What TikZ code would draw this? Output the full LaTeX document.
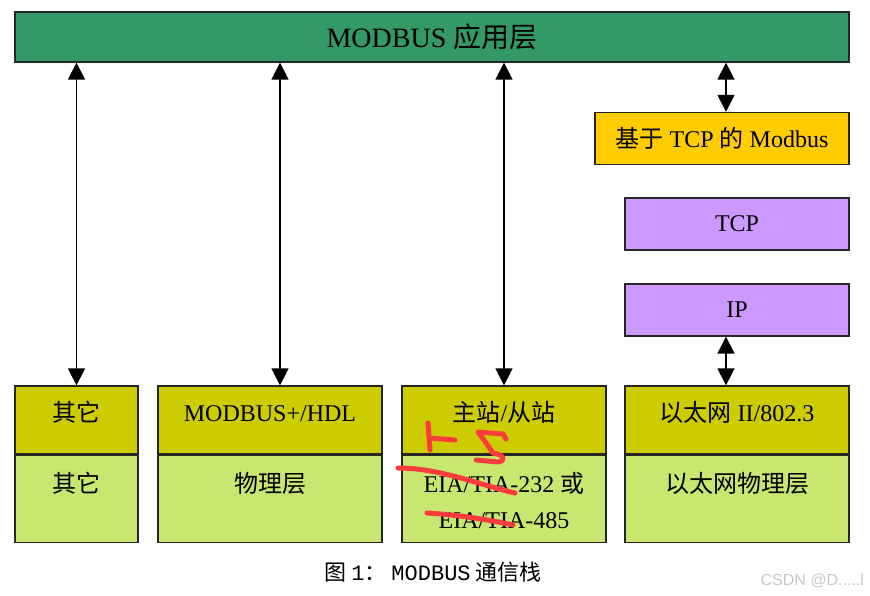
\documentclass[tikz,border=0pt]{standalone}
\usepackage{fontspec}
\setmainfont{Liberation Serif}
\newfontfamily\cjk{Noto Sans CJK SC}
\newfontfamily\capmono{Liberation Mono}
\newfontfamily\wmfont{Liberation Sans}
\usetikzlibrary{arrows.meta}
\definecolor{verdeapp}{RGB}{51,153,102}
\definecolor{amarillo}{RGB}{255,204,0}
\definecolor{lila}{RGB}{204,153,255}
\definecolor{oliva}{RGB}{204,204,0}
\definecolor{verdeclaro}{RGB}{200,230,112}
\definecolor{rojo}{RGB}{250,60,60}

\begin{document}
\begin{tikzpicture}[x=1pt,y=-1pt,line width=1.4pt,>={Triangle[length=17pt,width=17pt]},
  capa/.style={draw=black!85,line width=1.3pt,inner sep=0pt,font=\fontsize{24}{28}\selectfont},
  arriba/.style={capa,fill=oliva,minimum width=#1,text height=35pt,text depth=33pt},
  abajo/.style={capa,fill=verdeclaro,minimum width=#1,text height=37pt,text depth=50pt},
  tachon/.style={rojo,line width=5pt,line cap=round,line join=round}]
  \useasboundingbox (0,0) rectangle (870,595);
  % capa de aplicacion
  \node[capa,fill=verdeapp,minimum width=834pt,minimum height=50pt,
    font=\fontsize{28}{32}\selectfont] (app) at (432,37) {MODBUS {\cjk 应用层}};
  % pila TCP/IP
  \node[capa,fill=amarillo,minimum width=254pt,minimum height=52pt] (mbtcp) at (722,138.5) {{\cjk 基于} TCP {\cjk 的} Modbus};
  \node[capa,fill=lila,minimum width=224pt,minimum height=52pt] (tcp) at (737,224) {TCP};
  \node[capa,fill=lila,minimum width=224pt,minimum height=52pt] (ip) at (737,310) {IP};
  % enlace
  \node[arriba=123pt] (otro1) at (76.5,420) {\cjk 其它};
  \node[arriba=224pt] (plus) at (270,420) {MODBUS+/HDL};
  \node[arriba=204pt] (serie) at (504,420) {{\cjk 主站}/{\cjk 从站}};
  \node[arriba=224pt] (eth) at (737,420) {{\cjk 以太网} II/802.3};
  % fisica
  \node[abajo=123pt,anchor=north] (otro2) at (otro1.south) {\cjk 其它};
  \node[abajo=224pt,anchor=north] (fis) at (plus.south) {\cjk 物理层};
  \node[abajo=204pt,anchor=north,text height=73pt,text depth=14pt,align=center,
    font=\fontsize{24}{36}\selectfont] (rs) at (serie.south) {EIA/TIA-232 {\cjk 或}\\EIA/TIA-485};
  \node[abajo=224pt,anchor=north] (ethfis) at (eth.south) {\cjk 以太网物理层};
  % flechas
  \draw[<->] (otro1.north) -- (otro1.north |- app.south);
  \draw[<->] ([xshift=10pt]plus.north) -- ([xshift=10pt]plus.north |- app.south);
  \draw[<->] (serie.north) -- (serie.north |- app.south);
  \draw[<->] ([xshift=4pt]mbtcp.north) -- ([xshift=4pt]mbtcp.north |- app.south);
  \draw[<->] ([xshift=-11pt]ip.south) -- ([xshift=-11pt]eth.north);
  % anotacion a mano
  \draw[tachon] (428,423) -- (430,450);
  \draw[tachon] (430,438) -- (455,440);
  \draw[tachon] (506,439) -- (503,434) -- (478,432) -- (484,440) -- (493,453)
    .. controls (505,455) and (506,461) .. (498,462) -- (476,460);
  \draw[tachon] (398,468) .. controls (440,468) and (480,485) .. (515,493);
  \draw[tachon] (427,513) .. controls (460,515) and (490,520) .. (513,525);
  % pie
  \node (pie) at (433,572) {\fontsize{22}{26}\selectfont\cjk 图 {\capmono 1}： {\capmono MODBUS} 通信栈};
  \node[anchor=east,text=black!22,font=\fontsize{16}{18}\selectfont\wmfont] (marca) at (868,581) {CSDN @D.....l};
\end{tikzpicture}
\end{document}
